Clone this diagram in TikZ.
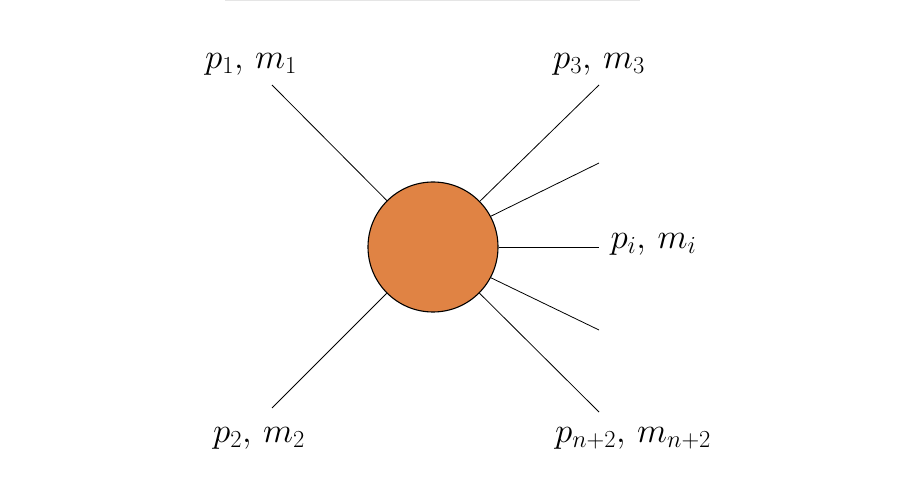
\RequirePackage{fix-cm}
\documentclass[tikz,border=0pt]{standalone}
\usepackage{xcolor}
\usepackage{tikz}
\usepackage{amsmath}
\usetikzlibrary{positioning}
\definecolor{blobfill}{HTML}{E08344}

\begin{document}
\begin{tikzpicture}[x=1pt,y=-1pt,
  leg/.style={line width=0.8pt},
  lab/.style={font=\fontsize{35}{40}\selectfont}]
  \useasboundingbox (0,0) rectangle (918,502);
  \draw[black!10,line width=1.2pt] (225,0.6) -- (640,0.6);
  \node[circle,draw,line width=1.1pt,fill=blobfill,minimum size=130pt,inner sep=0pt] (blob) at (433,247) {};
  % free ends of the legs
  \foreach \n/\x/\y in {a/272/85,b/272/408,c/599/85,d/599/163,e/599/247,f/599/330,g/599/412} {
    \coordinate (\n) at (\x,\y);
  }
  \foreach \n in {a,b,c,g} {
    \draw[leg] (blob) -- (\n);
  }
  \draw[leg] (blob.28) -- (d);
  \draw[leg] (blob.0) -- (e);
  \draw[leg] (blob.-28) -- (f);
  \node[lab] (la) at (251,64) {$p_1,\,m_1$};
  \node[lab] (lb) at (259,438) {$p_2,\,m_2$};
  \node[lab] (lc) at (599,64) {$p_3,\,m_3$};
  \node[lab,anchor=west] (le) at (607,244) {$p_i,\,m_i$};
  \node[lab] (lg) at (633,438) {$p_{n+2},\,m_{n+2}$};
\end{tikzpicture}
\end{document}
